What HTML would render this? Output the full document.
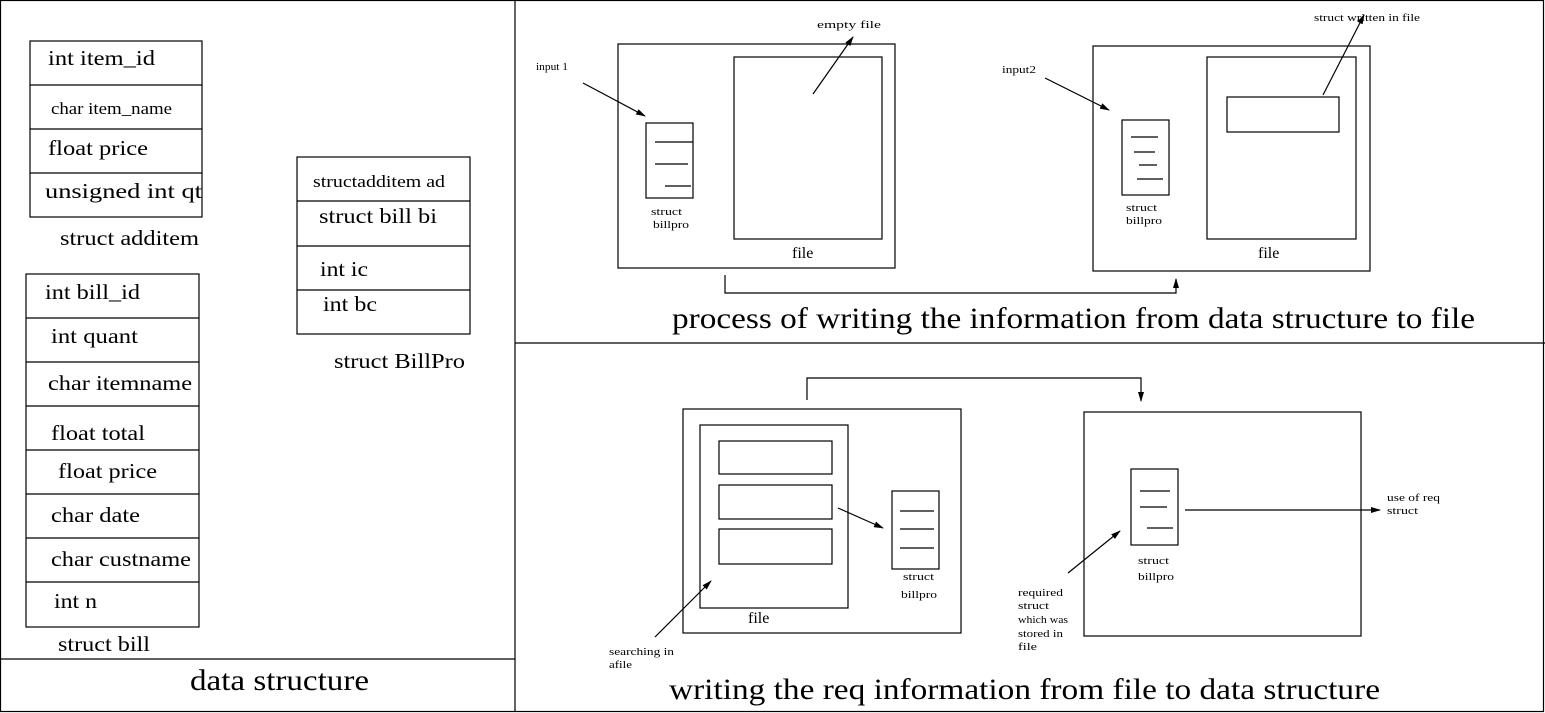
<!DOCTYPE html>
<html><head><meta charset="utf-8"><style>
html,body{margin:0;padding:0;background:#fff}
svg{display:block}
text{font-family:"Liberation Serif",serif;fill:#000}
.s{font-size:11px}
</style></head><body>
<svg width="1545" height="713" viewBox="0 0 1545 713">
<defs><marker id="ah" markerWidth="10" markerHeight="6" refX="9" refY="3" orient="auto" markerUnits="userSpaceOnUse"><path d="M0,0 L10,3 L0,6 Z" fill="#000"/></marker></defs>
<g fill="none" stroke="#000" stroke-width="1.2">
<rect x="0.5" y="0.5" width="1543" height="711"/>
<line x1="515" y1="0" x2="515" y2="712"/>
<line x1="515" y1="343" x2="1545" y2="343"/>
<line x1="0" y1="659" x2="515" y2="659"/>
<rect x="30" y="41" width="172" height="176"/>
<line x1="30" y1="85" x2="202" y2="85"/><line x1="30" y1="129" x2="202" y2="129"/><line x1="30" y1="173" x2="202" y2="173"/>
<rect x="26" y="274" width="173" height="353"/>
<line x1="26" y1="318" x2="199" y2="318"/><line x1="26" y1="362" x2="199" y2="362"/><line x1="26" y1="406" x2="199" y2="406"/><line x1="26" y1="450" x2="199" y2="450"/><line x1="26" y1="494" x2="199" y2="494"/><line x1="26" y1="538" x2="199" y2="538"/><line x1="26" y1="582" x2="199" y2="582"/>
<rect x="297" y="157" width="173" height="177"/>
<line x1="297" y1="201" x2="470" y2="201"/><line x1="297" y1="246" x2="470" y2="246"/><line x1="297" y1="290" x2="470" y2="290"/>
<rect x="618" y="44" width="277" height="224"/>
<rect x="734" y="57" width="148" height="182"/>
<rect x="646" y="123" width="47" height="75"/>
<line x1="655" y1="142" x2="693" y2="142"/><line x1="655" y1="164" x2="688" y2="164"/><line x1="665" y1="186" x2="691" y2="186"/>
<line x1="813" y1="94" x2="853" y2="37" marker-end="url(#ah)"/>
<line x1="583" y1="83" x2="645" y2="116" marker-end="url(#ah)"/>
<polyline points="725,275 725,293 1176,293 1176,279" marker-end="url(#ah)"/>
<rect x="1093" y="46" width="277" height="225"/>
<rect x="1207" y="57" width="149" height="182"/>
<rect x="1227" y="97" width="112" height="35"/>
<line x1="1323" y1="95" x2="1364" y2="15" marker-end="url(#ah)"/>
<rect x="1122" y="120" width="47" height="75"/>
<line x1="1131" y1="137" x2="1158" y2="137"/><line x1="1134" y1="152" x2="1155" y2="152"/><line x1="1139" y1="165" x2="1157" y2="165"/><line x1="1137" y1="179" x2="1163" y2="179"/>
<line x1="1045" y1="78" x2="1109" y2="110" marker-end="url(#ah)"/>
<polyline points="807,400 807,378 1141,378 1141,401" marker-end="url(#ah)"/>
<rect x="683" y="409" width="278" height="224"/>
<rect x="700" y="425" width="148" height="183"/>
<rect x="719" y="441" width="113" height="33"/><rect x="719" y="485" width="113" height="34"/><rect x="719" y="529" width="113" height="35"/>
<rect x="892" y="491" width="47" height="78"/>
<line x1="900" y1="511" x2="934" y2="511"/><line x1="900" y1="529" x2="934" y2="529"/><line x1="900" y1="548" x2="934" y2="548"/>
<line x1="838" y1="508" x2="883" y2="528" marker-end="url(#ah)"/>
<line x1="655" y1="637" x2="711" y2="581" marker-end="url(#ah)"/>
<rect x="1084" y="412" width="277" height="224"/>
<rect x="1131" y="469" width="47" height="76"/>
<line x1="1140" y1="491" x2="1170" y2="491"/><line x1="1140" y1="507" x2="1167" y2="507"/><line x1="1147" y1="528" x2="1173" y2="528"/>
<line x1="1185" y1="510" x2="1380" y2="510" marker-end="url(#ah)"/>
<line x1="1068" y1="573" x2="1120" y2="531" marker-end="url(#ah)"/>
</g>
<g font-size="21" lengthAdjust="spacingAndGlyphs">
<text x="48" y="65" textLength="107" lengthAdjust="spacingAndGlyphs">int item_id</text>
<text x="51" y="114" font-size="17" textLength="121" lengthAdjust="spacingAndGlyphs">char item_name</text>
<text x="48" y="155" textLength="100" lengthAdjust="spacingAndGlyphs">float price</text>
<text x="45" y="198" textLength="157" lengthAdjust="spacingAndGlyphs">unsigned int qt</text>
<text x="60" y="245" textLength="139" lengthAdjust="spacingAndGlyphs">struct additem</text>
<text x="45" y="299" textLength="95" lengthAdjust="spacingAndGlyphs">int bill_id</text>
<text x="51" y="343" textLength="87" lengthAdjust="spacingAndGlyphs">int quant</text>
<text x="48" y="390" textLength="144" lengthAdjust="spacingAndGlyphs">char itemname</text>
<text x="51" y="440" textLength="94" lengthAdjust="spacingAndGlyphs">float total</text>
<text x="58" y="478" textLength="99" lengthAdjust="spacingAndGlyphs">float price</text>
<text x="51" y="522" textLength="89" lengthAdjust="spacingAndGlyphs">char date</text>
<text x="51" y="566" textLength="140" lengthAdjust="spacingAndGlyphs">char custname</text>
<text x="54" y="608" textLength="43" lengthAdjust="spacingAndGlyphs">int n</text>
<text x="58" y="651" textLength="92" lengthAdjust="spacingAndGlyphs">struct bill</text>
<text x="313" y="187" font-size="17" textLength="132" lengthAdjust="spacingAndGlyphs">structadditem ad</text>
<text x="319" y="223" textLength="118" lengthAdjust="spacingAndGlyphs">struct bill bi</text>
<text x="320" y="276" textLength="48" lengthAdjust="spacingAndGlyphs">int ic</text>
<text x="323" y="311" textLength="54" lengthAdjust="spacingAndGlyphs">int bc</text>
<text x="334" y="368" textLength="131" lengthAdjust="spacingAndGlyphs">struct BillPro</text>
<text x="190" y="690" font-size="30" textLength="179" lengthAdjust="spacingAndGlyphs">data structure</text>
<text x="672" y="328" font-size="30" textLength="803" lengthAdjust="spacingAndGlyphs">process of writing the information from data structure to file</text>
<text x="669" y="699" font-size="30" textLength="711" lengthAdjust="spacingAndGlyphs">writing the req information from file to data structure</text>
</g>
<g class="s">
<text x="817" y="28" class="s" textLength="64" lengthAdjust="spacingAndGlyphs">empty file</text>
<text x="536" y="70" class="s" textLength="32" lengthAdjust="spacingAndGlyphs">input 1</text>
<text x="651" y="215" class="s" textLength="31" lengthAdjust="spacingAndGlyphs">struct</text><text x="653" y="228" class="s" textLength="36" lengthAdjust="spacingAndGlyphs">billpro</text>
<text x="792" y="258" font-size="16">file</text>
<text x="1314" y="21" class="s" textLength="106" lengthAdjust="spacingAndGlyphs">struct written in file</text>
<text x="1002" y="73" class="s" textLength="34" lengthAdjust="spacingAndGlyphs">input2</text>
<text x="1126" y="211" class="s" textLength="31" lengthAdjust="spacingAndGlyphs">struct</text><text x="1126" y="224" class="s" textLength="36" lengthAdjust="spacingAndGlyphs">billpro</text>
<text x="1258" y="258" font-size="16">file</text>
<text x="903" y="580" class="s" textLength="31" lengthAdjust="spacingAndGlyphs">struct</text><text x="901" y="598" class="s" textLength="36" lengthAdjust="spacingAndGlyphs">billpro</text>
<text x="748" y="623" font-size="16">file</text>
<text x="609" y="655" class="s" textLength="65" lengthAdjust="spacingAndGlyphs">searching in</text><text x="609" y="668" class="s" textLength="23" lengthAdjust="spacingAndGlyphs">afile</text>
<text x="1138" y="564" class="s" textLength="31" lengthAdjust="spacingAndGlyphs">struct</text><text x="1138" y="580" class="s" textLength="36" lengthAdjust="spacingAndGlyphs">billpro</text>
<text x="1387" y="501" class="s" textLength="53" lengthAdjust="spacingAndGlyphs">use of req</text><text x="1387" y="514" class="s" textLength="31" lengthAdjust="spacingAndGlyphs">struct</text>
<text x="1018" y="596" class="s" textLength="45" lengthAdjust="spacingAndGlyphs">required</text><text x="1018" y="609" class="s" textLength="31" lengthAdjust="spacingAndGlyphs">struct</text><text x="1018" y="623" class="s" textLength="50" lengthAdjust="spacingAndGlyphs">which was</text><text x="1018" y="637" class="s" textLength="45" lengthAdjust="spacingAndGlyphs">stored in</text><text x="1018" y="650" class="s" textLength="19" lengthAdjust="spacingAndGlyphs">file</text>
</g>
</svg>
</body></html>
